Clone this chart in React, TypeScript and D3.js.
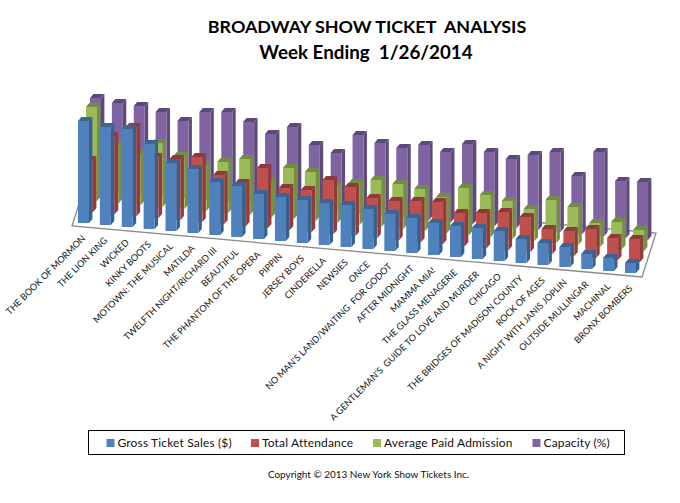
import React from 'react';
import * as d3 from 'd3';

const shows = [
  'THE BOOK OF MORMON', 'THE LION KING', 'WICKED', 'KINKY BOOTS', 'MOTOWN: THE MUSICAL', 'MATILDA',
  'TWELFTH NIGHT/RICHARD III', 'BEAUTIFUL', 'THE PHANTOM OF THE OPERA', 'PIPPIN', 'JERSEY BOYS', 'CINDERELLA',
  'NEWSIES', 'ONCE', "NO MAN'S LAND/WAITING  FOR GODOT", 'AFTER MIDNIGHT', 'MAMMA MIA!', 'THE GLASS MENAGERIE',
  "A GENTLEMAN'S  GUIDE TO LOVE AND MURDER", 'CHICAGO', 'THE BRIDGES OF MADISON COUNTY', 'ROCK OF AGES',
  'A NIGHT WITH JANIS JOPLIN', 'OUTSIDE MULLINGAR', 'MACHINAL', 'BRONX BOMBERS',
];

// relative heights
const grossSales = [102, 98, 98, 85, 68, 64, 53, 51, 45, 44, 43, 42, 42, 40, 37, 35, 32, 31, 31, 30, 24, 22, 20, 15, 13, 10];
const attendance = [52, 78, 89, 61, 61, 65, 49, 43, 60, 42, 42, 54, 49, 40, 39, 41, 42, 33, 35, 38, 35, 25, 25, 29, 22, 23];
const avgAdmission = [94, 58, 51, 64, 53, 46, 51, 56, 35, 51, 49, 37, 42, 47, 45, 42, 36, 47, 42, 38, 32, 43, 38, 24, 27, 21];
const capacity = [92, 89, 88, 84, 77, 88, 90, 82, 72, 81, 65, 59, 79, 73, 70, 75, 70, 80, 74, 69, 75, 80, 58, 84, 57, 58];

const seriesList = [
  { name: 'Gross Ticket Sales ($)', values: grossSales, front: '#4f81bd', top: '#3a6595', side: '#36608f', swatchX: 106.5 },
  { name: 'Total Attendance', values: attendance, front: '#c0504d', top: '#8e3a38', side: '#913c3a', swatchX: 251 },
  { name: 'Average Paid Admission', values: avgAdmission, front: '#9bbb59', top: '#728c40', side: '#769043', swatchX: 373 },
  { name: 'Capacity (%)', values: capacity, front: '#8064a2', top: '#5d4878', side: '#604a7b', swatchX: 532.5 },
];

const font = 'Lato, "Open Sans", sans-serif';

const x = d3.scaleLinear().domain([0, 25]).range([78, 625]);
const floorY = d3.scaleLinear().domain([0, 25]).range([223, 273]);
const h = d3.scaleLinear().domain([0, 100]).range([0, 100]);
// offset for each row going backwards
const rowX = d3.scaleLinear().domain([0, 3]).range([0, 12]);
const rowY = d3.scaleLinear().domain([0, 3]).range([0, -33]);

const barW = 11;
const depthX = 3.4;
const depthY = -4;

const poly = (pts: number[][]) => pts.map(p => p.join(',')).join(' ');

export default function App() {
  const rows = seriesList.map((s, r) => ({ s, r })).reverse();
  return (
    <svg width={680} height={503} style={{ position: 'absolute', left: 0, top: 0, fontFamily: font }}>
      <rect width={680} height={503} fill="#fff" />
      <text x={367} y={33} textAnchor="middle" fontSize={17.9} fontWeight={700} fill="#000" style={{ whiteSpace: 'pre' }}>BROADWAY SHOW TICKET  ANALYSIS</text>
      <text x={366} y={59} textAnchor="middle" fontSize={18.8} fontWeight={700} fill="#000" style={{ whiteSpace: 'pre' }}>Week Ending  1/26/2014</text>

      <polygon points={poly([[72, 226], [86, 182], [656, 233], [642, 277]])} fill="#fff" stroke="#8a8a8a" strokeWidth={1.3} />

      {rows.map(({ s, r }) => (
        <g key={s.name}>
          {s.values.map((v, i) => {
            const x0 = x(i) + rowX(r);
            const y0 = floorY(i) + rowY(r);
            const yt = y0 - h(v);
            return (
              <g key={i}>
                <polygon points={poly([[x0 + barW, y0], [x0 + barW + depthX, y0 + depthY], [x0 + barW + depthX, yt + depthY], [x0 + barW, yt]])} fill={s.side} />
                <polygon points={poly([[x0, yt], [x0 + depthX, yt + depthY], [x0 + barW + depthX, yt + depthY], [x0 + barW, yt]])} fill={s.top} />
                <rect x={x0} y={yt} width={barW} height={h(v)} fill={s.front} />
              </g>
            );
          })}
        </g>
      ))}

      {shows.map((name, i) => (
        <text key={name} textAnchor="end" fontSize={9.15} fill="#111" style={{ whiteSpace: 'pre' }}
          transform={`translate(${x(i) + 8},${floorY(i) + 16}) rotate(-45)`}>{name}</text>
      ))}

      <rect x={88.5} y={430.5} width={536} height={24} fill="#fff" stroke="#000" strokeWidth={1} />
      {seriesList.map(s => (
        <g key={s.name}>
          <rect x={s.swatchX} y={439} width={8} height={8} fill={s.front} />
          <text x={s.swatchX + 11} y={446.5} fontSize={12} letterSpacing={0.15} fill="#111">{s.name}</text>
        </g>
      ))}
      <text x={368.5} y={478} textAnchor="middle" fontSize={9.95} fill="#111">Copyright © 2013 New York Show Tickets Inc.</text>
    </svg>
  );
}
